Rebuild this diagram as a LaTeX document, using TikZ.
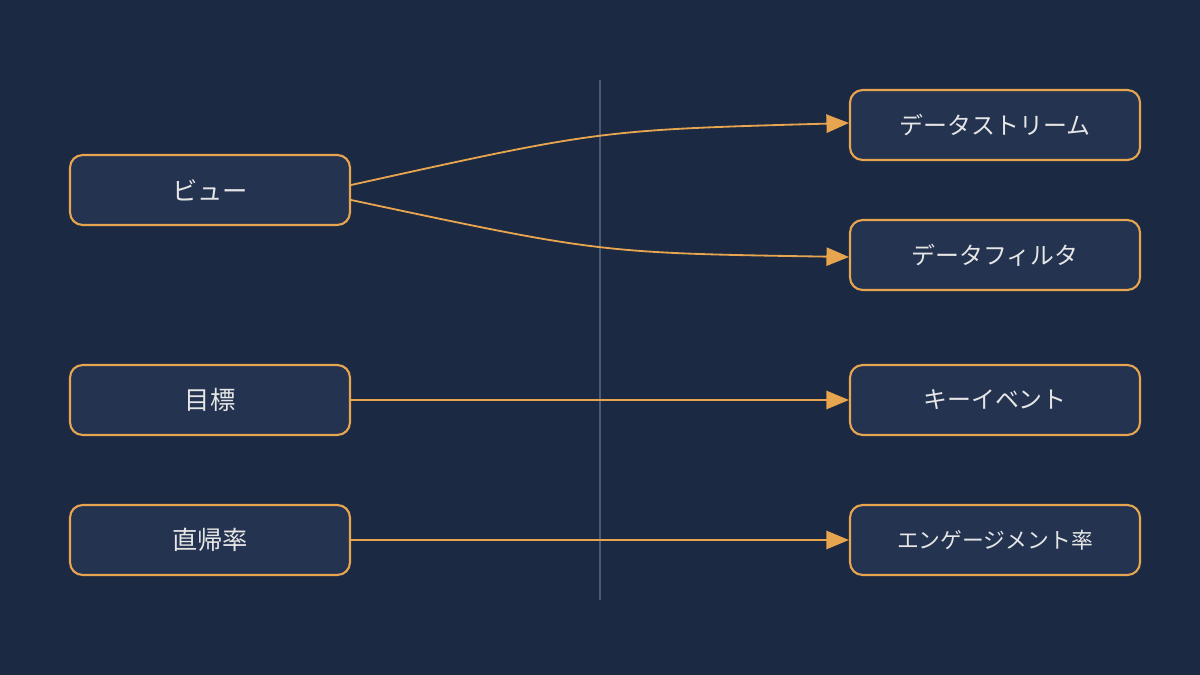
\documentclass[tikz,border=0pt]{standalone}
\usepackage{fontspec}
\newfontfamily\cjk{Noto Sans CJK JP}
\usetikzlibrary{arrows.meta}
\definecolor{bg}{HTML}{1B2942}
\definecolor{boxfill}{HTML}{233350}
\definecolor{edge}{HTML}{E8A550}
\definecolor{txt}{HTML}{E6E6E6}
\definecolor{divider}{HTML}{4A5A75}
\begin{document}
\begin{tikzpicture}[x=0.025cm,y=-0.025cm,
  box/.style={draw=edge,line width=1.5pt,fill=boxfill,rounded corners=9pt,
    minimum height=70*0.025cm,text=txt,font=\cjk\fontsize{17}{20}\selectfont,inner sep=0pt},
  lbox/.style={box,minimum width=280*0.025cm},
  rbox/.style={box,minimum width=290*0.025cm},
  conn/.style={draw=edge,line width=1.3pt,-{Triangle[length=16pt,width=13pt]}}]
\fill[bg] (0,0) rectangle (1200,675);
\useasboundingbox (0,0) rectangle (1200,675);
\coordinate (dt) at (600,80); \coordinate (db) at (600,600);
\draw[divider,line width=0.8pt] (dt) -- (db);
\node[lbox,font=\cjk\fontsize{18}{20}\selectfont] (view) at (210,190) {ビュー};
\node[lbox,font=\cjk\fontsize{18}{20}\selectfont] (goal) at (210,400) {目標};
\node[lbox,font=\cjk\fontsize{18}{20}\selectfont] (bounce) at (210,540) {直帰率};
\node[rbox] (stream) at (995,125) {データストリーム};
\node[rbox] (filter) at (995,255) {データフィルタ};
\node[rbox] (key) at (995,400) {キーイベント};
\node[rbox,font=\cjk\fontsize{15.5}{20}\selectfont] (eng) at (995,540) {エンゲージメント率};
\draw[conn] ([yshift=0.125cm]view.east) .. controls (600,130) .. ([yshift=0.05cm]stream.west);
\draw[conn] ([yshift=-0.25cm]view.east) .. controls (600,253) .. ([yshift=-0.05cm]filter.west);
\draw[conn] (goal) -- (key);
\draw[conn] (bounce) -- (eng);
\end{tikzpicture}
\end{document}
